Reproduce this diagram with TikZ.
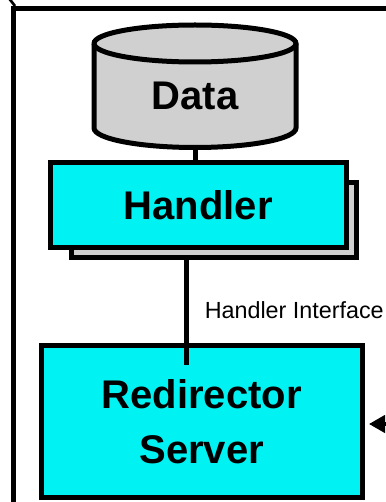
\documentclass[tikz,border=0pt]{standalone}
\usepackage{fontspec}
\setmainfont{Liberation Sans}
\usetikzlibrary{arrows.meta}
\newcommand{\pxUnit}{0.75pt}
\newcommand{\lineThick}{3.75pt}
\newcommand{\boxFont}{\fontsize{30}{41.25}\selectfont\bfseries}
\definecolor{boxCyan}{HTML}{00F2F2}
\definecolor{dataGray}{HTML}{D0D0D0}
\tikzset{
  boxnode/.style={draw=black,line width=\lineThick,fill=boxCyan,font=\boxFont,align=center,inner sep=0pt,outer sep=0pt},
  shadownode/.style={draw=black,line width=\lineThick,fill=dataGray,inner sep=0pt,outer sep=0pt},
  thickline/.style={draw=black,line width=\lineThick}
}

\begin{document}
\begin{tikzpicture}[x=\pxUnit,y=-\pxUnit]
  \useasboundingbox (0,0) rectangle (385,502);

  \draw[thickline] (13.5,510) -- (13.5,8.5) -- (392,8.5);
  \draw[black,line width=2pt] (9.5,-1) -- (15,6);

  \draw[thickline,fill=dataGray] (94,43.5) arc[start angle=180,end angle=360,x radius=101,y radius=18.5]
    -- (296,128) arc[start angle=0,end angle=180,x radius=101,y radius=19.5] -- cycle;
  \draw[thickline] (94,43.5) arc[start angle=180,end angle=0,x radius=101,y radius=18.5];
  \coordinate (dataBottom) at (195,147.5);
  \node (dataLabel) [font=\boxFont,anchor=base,inner sep=0pt] at (195,110) {Data};

  \node (handlerShadow) [shadownode,minimum width=213.75pt,minimum height=56.25pt] at (213.5,220) {};
  \node (handler) [boxnode,minimum width=222pt,minimum height=64.1pt] at (198.25,204.75) {Handler};
  \draw[thickline] (dataBottom) -- (dataBottom |- handler.north);

  \node (redirector) [boxnode,minimum width=240.4pt,minimum height=113.8pt] at (201.75,421.75) {Redirector\\Server};

  \coordinate (handlerPort) at (186.5,365);
  \draw[thickline] (handlerShadow.south -| handlerPort) -- (handlerPort);
  \node (ifaceLabel) [font=\fontsize{17.5}{20}\selectfont,anchor=base west,inner sep=0pt] at (204.5,318.5) {Handler Interface};

  \coordinate (arrowEnd) at (369,424);
  \coordinate (arrowStart) at (392,424);
  \draw[black,line width=2.5pt,-{Triangle[length=12pt,width=13pt]}] (arrowStart) -- (arrowEnd);
\end{tikzpicture}
\end{document}
